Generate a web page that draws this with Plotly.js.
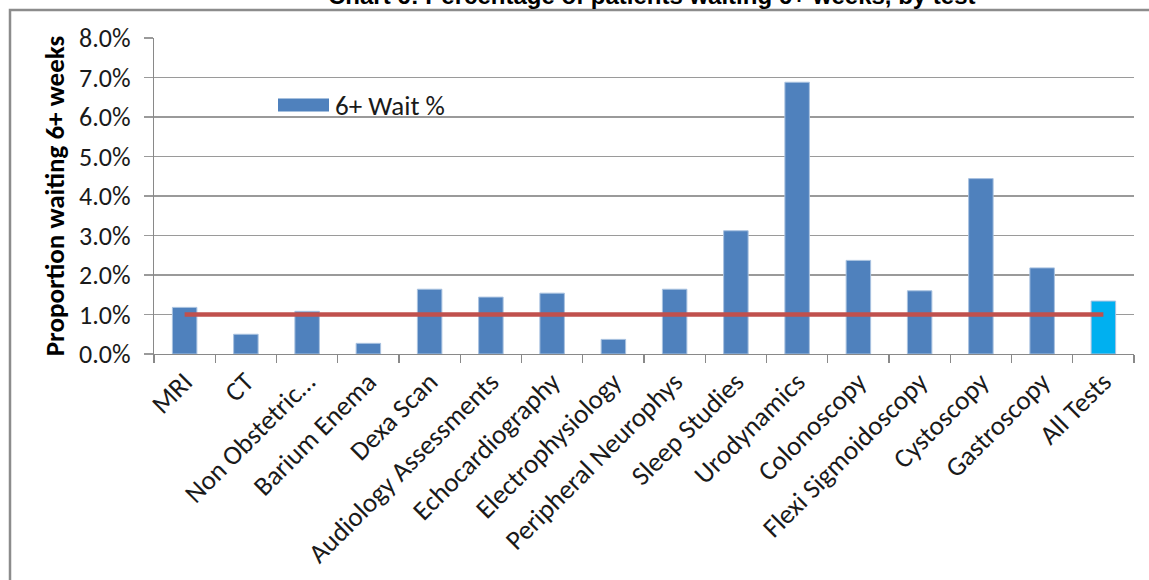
<!DOCTYPE html>
<html>
<head>
<meta charset="utf-8">
<script src="https://cdn.plot.ly/plotly-3.0.1.min.js"></script>
<style>html,body{margin:0;padding:0;background:#fff;}#chart{width:1149px;height:580px;}</style>
</head>
<body>
<div id="chart"></div>
<script>
var categories = ["MRI", "CT", "Non Obstetric…", "Barium Enema", "Dexa Scan", "Audiology Assessments", "Echocardiography", "Electrophysiology", "Peripheral Neurophys", "Sleep Studies", "Urodynamics", "Colonoscopy", "Flexi Sigmoidoscopy", "Cystoscopy", "Gastroscopy", "All Tests"];
var waitPct = [0.0118, 0.0050, 0.0108, 0.0027, 0.0164, 0.0144, 0.0154, 0.0037, 0.0164, 0.0312, 0.0688, 0.0237, 0.0160, 0.0444, 0.0218, 0.0134];
var target = [0.01, 0.01, 0.01, 0.01, 0.01, 0.01, 0.01, 0.01, 0.01, 0.01, 0.01, 0.01, 0.01, 0.01, 0.01, 0.01];
var yTicks = [0, 0.01, 0.02, 0.03, 0.04, 0.05, 0.06, 0.07, 0.08];

var W = 1149, H = 580;
var L = 154, R = 15, T = 38, B = 226;
var pw = W - L - R, ph = H - T - B;
function px(x) { return (x - L) / pw; }
function py(y) { return (H - B - y) / ph; }

var font = "Carlito, Calibri, Lato, sans-serif";
var barColors = categories.map(function (c, i) { return i === categories.length - 1 ? "#00B0F0" : "#4F81BD"; });

var traces = [
  {
    type: "bar", x: categories, y: waitPct, name: "6+ Wait %",
    width: 0.4,
    marker: { color: barColors, line: { color: "#A9C2E0", width: 1 } },
    showlegend: false, hoverinfo: "x+y"
  },
  {
    type: "scatter", mode: "lines", x: categories, y: target,
    line: { color: "#C0504D", width: 4.5 },
    showlegend: false, hoverinfo: "skip"
  }
];

var layout = {
  width: W, height: H,
  margin: { l: L, r: R, t: T, b: B, pad: 0 },
  paper_bgcolor: "#ffffff", plot_bgcolor: "#ffffff",
  font: { family: font, size: 26, color: "#1a1a1a" },
  bargap: 0.6,
  xaxis: {
    type: "category",
    tickangle: -45,
    tickson: "boundaries",
    ticks: "outside", ticklen: 8, tickcolor: "#898989", tickwidth: 1.3,
    showline: true, linecolor: "#898989", linewidth: 1.3,
    showgrid: false, zeroline: false,
    tickfont: { family: font, size: 27, color: "#1a1a1a" },
    automargin: false
  },
  yaxis: {
    range: [0, 0.08],
    tickvals: yTicks,
    tickformat: ".1%",
    ticks: "outside", ticklen: 9, tickcolor: "#9a9a9a", tickwidth: 1.3,
    ticklabelstandoff: 8,
    showline: true, linecolor: "#898989", linewidth: 1.3,
    showgrid: true, gridcolor: "#9a9a9a", gridwidth: 1.3,
    zeroline: false,
    tickfont: { family: font, size: 26, color: "#1a1a1a" },
    title: { text: "<b>Proportion waiting 6+ weeks</b>", font: { family: font, size: 27, color: "#000" }, standoff: 6 },
    automargin: false
  },
  shapes: [
    { type: "path", xref: "paper", yref: "paper",
      path: "M " + px(10) + "," + py(585) + " L " + px(10) + "," + py(10) + " L " + px(1155) + "," + py(10),
      line: { color: "#8c8c8c", width: 2.5 } },
    { type: "rect", xref: "paper", yref: "paper",
      x0: px(278), x1: px(329), y0: py(111.5), y1: py(98.5),
      fillcolor: "#4F81BD", line: { width: 0 } }
  ],
  annotations: [
    { xref: "paper", yref: "paper", x: px(652), y: py(-4.5), xanchor: "center", yanchor: "middle",
      text: "<b>Chart 6: Percentage of patients waiting 6+ weeks, by test</b>", showarrow: false,
      font: { family: "Liberation Sans, Arial, sans-serif", size: 24, color: "#000" } },
    { xref: "paper", yref: "paper", x: px(333), y: py(105), xanchor: "left", yanchor: "middle",
      text: "6+ Wait %", showarrow: false,
      font: { family: font, size: 27, color: "#1a1a1a" } }
  ]
};

Plotly.newPlot("chart", traces, layout, { displayModeBar: false, staticPlot: true });
</script>
</body>
</html>
